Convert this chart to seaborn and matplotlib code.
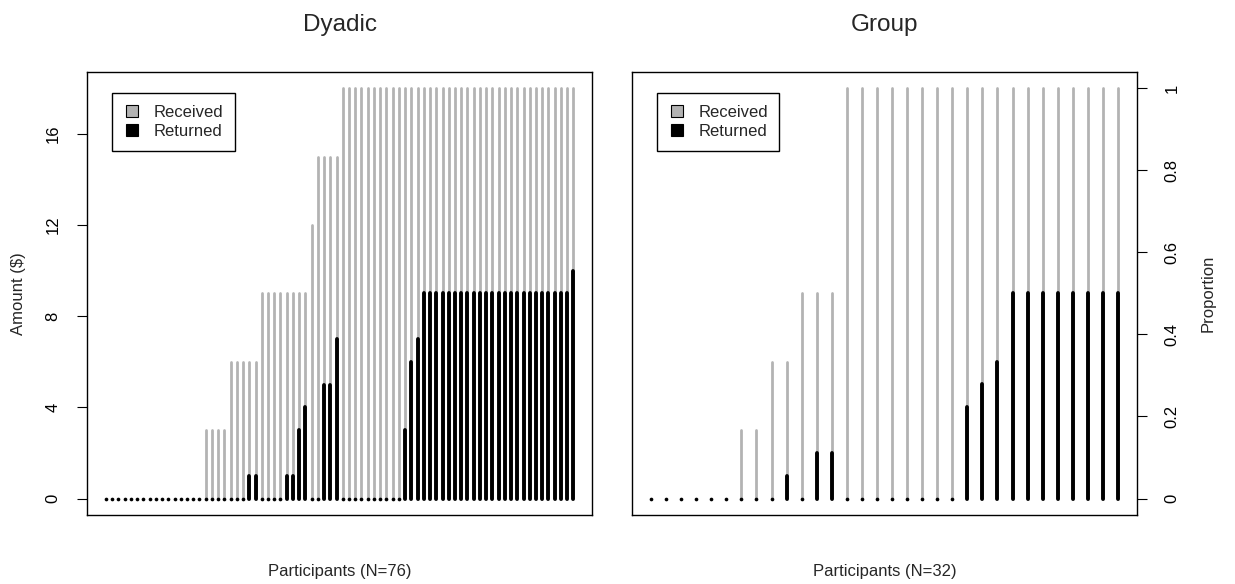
import numpy as np
import pandas as pd
import matplotlib
matplotlib.use("Agg")
import matplotlib.pyplot as plt
import seaborn as sns
from matplotlib.lines import Line2D

# Dyadic: amount received / returned per participant (N=76)
received_dyadic = [0, 0, 0, 0, 0, 0, 0, 0, 0, 0, 0, 0, 0, 0, 0, 0,
                   3, 3, 3, 3,
                   6, 6, 6, 6, 6,
                   9, 9, 9, 9, 9, 9, 9, 9,
                   12,
                   15, 15, 15, 15,
                   18, 18, 18, 18, 18, 18, 18, 18, 18, 18,
                   18, 18, 18, 18, 18, 18, 18, 18, 18, 18,
                   18, 18, 18, 18, 18, 18, 18, 18, 18, 18,
                   18, 18, 18, 18, 18, 18, 18, 18]
returned_dyadic = [0, 0, 0, 0, 0, 0, 0, 0, 0, 0, 0, 0, 0, 0, 0, 0,
                   0, 0, 0, 0,
                   0, 0, 0, 1, 1,
                   0, 0, 0, 0, 1, 1, 3, 4,
                   0,
                   0, 5, 5, 7,
                   0, 0, 0, 0, 0, 0, 0, 0, 0, 0,
                   3, 6, 7, 9, 9, 9, 9, 9, 9, 9,
                   9, 9, 9, 9, 9, 9, 9, 9, 9, 9,
                   9, 9, 9, 9, 9, 9, 9, 10]

# Group: proportion received / returned per participant (N=32)
received_group = [0, 0, 0, 0, 0, 0,
                  0.167, 0.167,
                  0.333, 0.333,
                  0.5, 0.5, 0.5,
                  1, 1, 1, 1, 1, 1, 1, 1, 1, 1,
                  1, 1, 1, 1, 1, 1, 1, 1, 1]
returned_group = [0, 0, 0, 0, 0, 0,
                  0, 0,
                  0, 0.056,
                  0, 0.111, 0.111,
                  0, 0, 0, 0, 0, 0, 0, 0, 0.222, 0.278,
                  0.333, 0.5, 0.5, 0.5, 0.5, 0.5, 0.5, 0.5, 0.5]

GRAY = "#B3B3B3"

sns.set_theme(style="white")
plt.rcParams['font.family'] = ['Liberation Sans', 'DejaVu Sans']
plt.rcParams['axes.edgecolor'] = 'black'
plt.rcParams['axes.linewidth'] = 1.0


def draw_panel(ax, received, returned, ymax):
    df = pd.DataFrame({'participant': np.arange(1, len(received) + 1),
                       'received': received, 'returned': returned})
    g = ax.vlines(df['participant'], 0, df['received'], color=GRAY, lw=2.0)
    g.set_capstyle('round')
    nz = df[df['returned'] > 0]
    b = ax.vlines(nz['participant'], 0, nz['returned'], color='black', lw=2.8)
    b.set_capstyle('round')
    sns.scatterplot(data=df[df['returned'] == 0], x='participant', y='returned',
                    color='black', s=7, linewidth=0, ax=ax, legend=False, zorder=3)
    n = len(received)
    ax.set_xlim(1 - 0.04 * (n - 1), n + 0.04 * (n - 1))
    ax.set_ylim(-0.04 * ymax, 1.04 * ymax)
    ax.set_xticks([])
    for s in ax.spines.values():
        s.set_visible(True)
        s.set_color('black')
        s.set_linewidth(1.0)
    handles = [Line2D([], [], marker='s', ls='', markerfacecolor=GRAY,
                      markeredgecolor='black', markersize=8, markeredgewidth=0.8),
               Line2D([], [], marker='s', ls='', markerfacecolor='black',
                      markeredgecolor='black', markersize=8, markeredgewidth=0.8)]
    leg = ax.legend(handles, ['Received', 'Returned'], loc='upper left',
                    bbox_to_anchor=(0.048, 0.951), borderaxespad=0,
                    fontsize=12, frameon=True, fancybox=False, framealpha=1,
                    edgecolor='black', borderpad=0.7, labelspacing=0.25,
                    handlelength=1.1, handletextpad=0.7)
    leg.get_frame().set_linewidth(1.0)


fig = plt.figure(figsize=(12.35, 5.84), dpi=100)
ax1 = fig.add_axes([0.0707, 0.1182, 0.4087, 0.759])
ax2 = fig.add_axes([0.512, 0.1182, 0.4084, 0.759])

draw_panel(ax1, received_dyadic, returned_dyadic, 18)
ax1.set_yticks([0, 4, 8, 12, 16])
ax1.tick_params(axis='y', left=True, length=7.2, width=0.8, color='black',
                pad=12, labelsize=12, labelcolor='black')
for t in ax1.get_yticklabels():
    t.set_rotation(90)
    t.set_va('center')
ax1.set_ylabel('Amount ($)', fontsize=12, labelpad=14)
ax1.set_xlabel('Participants (N=76)', fontsize=12, labelpad=35)
ax1.set_title('Dyadic', fontsize=17.5, pad=29)

draw_panel(ax2, received_group, returned_group, 1)
ax2.set_yticks([0, 0.2, 0.4, 0.6, 0.8, 1])
ax2.set_yticklabels(['0', '0.2', '0.4', '0.6', '0.8', '1'])
ax2.yaxis.tick_right()
ax2.yaxis.set_label_position('right')
ax2.tick_params(axis='y', right=True, left=False, length=7.2, width=0.8,
                color='black', pad=13, labelsize=12, labelcolor='black')
for t in ax2.get_yticklabels():
    t.set_rotation(90)
    t.set_va('center')
ax2.set_ylabel('Proportion', fontsize=12, labelpad=15)
ax2.set_xlabel('Participants (N=32)', fontsize=12, labelpad=35)
ax2.set_title('Group', fontsize=17.5, pad=29)

fig.savefig('out.png', dpi=100)
